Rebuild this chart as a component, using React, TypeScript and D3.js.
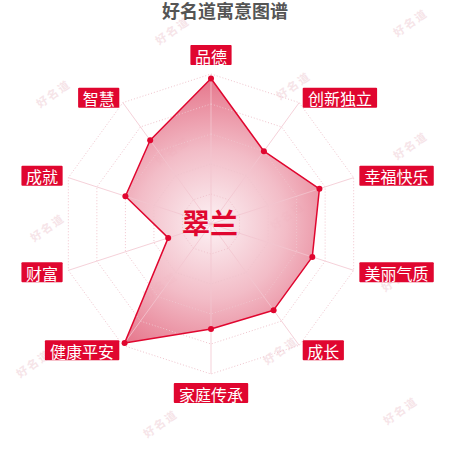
import * as d3 from 'd3'

const indicators = ['品德', '创新独立', '幸福快乐', '美丽气质', '成长', '家庭传承', '健康平安', '财富', '成就', '智慧']
const scores = [97, 60, 76, 71, 71, 70, 98, 30, 60, 69]
const ringLevels = [20, 40, 60, 80, 100]
const watermarks: [number, number][] = [
  [172, 30], [410, 22], [53, 93], [293, 85], [172, 150], [410, 145],
  [47, 227], [287, 215], [160, 285], [398, 277], [33, 363], [280, 350], [160, 423], [400, 410],
]

const FONT = '"Noto Sans CJK SC", "Noto Sans", sans-serif'
const RED = '#e0062f'

export default function App() {
  const width = 450
  const height = 450
  const cx = 211
  const cy = 224
  const R = 150

  const r = d3.scaleLinear().domain([0, 100]).range([0, R])
  const angle = d3
    .scaleLinear()
    .domain([0, indicators.length])
    .range([-Math.PI / 2, (3 * Math.PI) / 2])

  const pt = (i: number, v: number): [number, number] => {
    const a = angle(i)
    return [cx + r(v) * Math.cos(a), cy + r(v) * Math.sin(a)]
  }

  const line = d3.line<[number, number]>().curve(d3.curveLinearClosed)
  const dataPts = scores.map((v, i) => pt(i, v))

  return (
    <svg
      width={width}
      height={height}
      style={{ position: 'absolute', left: 0, top: 0, display: 'block' }}
      fontFamily={FONT}
    >
      <defs>
        <radialGradient id="fillGrad" gradientUnits="userSpaceOnUse" cx={cx} cy={cy} r={R}>
          <stop offset="0" stopColor="#fcf0f3" />
          <stop offset="0.5" stopColor="#f1b5c1" />
          <stop offset="1" stopColor="#e2637b" />
        </radialGradient>
      </defs>
      <rect width={width} height={height} fill="#fff" />

      {watermarks.map(([x, y], i) => (
        <text
          key={`wm-${i}`}
          x={x}
          y={y}
          textAnchor="middle"
          dominantBaseline="central"
          transform={`rotate(-35 ${x} ${y})`}
          fontSize={11}
          fontWeight="bold"
          fill="#f6e4e8"
          letterSpacing={2}
        >
          好名道
        </text>
      ))}

      <text x={225} y={18} textAnchor="middle" fontSize={18} fontWeight="bold" fill="#555">
        好名道寓意图谱
      </text>

      <path d={line(dataPts) ?? ''} fill="url(#fillGrad)" fillOpacity={0.9} />

      {ringLevels.map((lv) => (
        <path
          key={`ring-${lv}`}
          d={line(indicators.map((_, i) => pt(i, lv))) ?? ''}
          fill="none"
          stroke="#f0c4cd"
          strokeWidth={1}
          strokeDasharray="1 2"
        />
      ))}
      {indicators.map((_, i) => {
        const [x, y] = pt(i, 100)
        return <line key={`sp-${i}`} x1={cx} y1={cy} x2={x} y2={y} stroke="#f2c6cf" strokeOpacity={0.8} strokeWidth={1} />
      })}

      <path d={line(dataPts) ?? ''} fill="none" stroke={RED} strokeWidth={1.5} strokeLinejoin="round" />
      {dataPts.map(([x, y], i) => (
        <circle key={`dot-${i}`} cx={x} cy={y} r={3} fill={RED} />
      ))}

      <text x={210} y={222} textAnchor="middle" dominantBaseline="central" fontSize={28} fontWeight="bold" fill={RED}>
        翠兰
      </text>

      {indicators.map((name, i) => {
        const a = angle(i)
        const [ax, ay] = [cx + (R + 6) * Math.cos(a), cy + (R + 6) * Math.sin(a)]
        const fs = 16
        const w = name.length * 16.6 + 8
        const h = 20
        const c = Math.cos(a)
        const s = Math.sin(a)
        let bx = ax - w / 2
        if (c > 0.01) bx = ax
        else if (c < -0.01) bx = ax - w
        let by = ay - h / 2
        if (Math.abs(c) <= 0.01) by = s < 0 ? ay - h - 3 : ay + 3
        return (
          <g key={`lab-${i}`}>
            <rect x={bx} y={by} width={w} height={h} fill={RED} rx={1} />
            <text
              x={bx + w / 2}
              y={by + h / 2 + 0.5}
              textAnchor="middle"
              dominantBaseline="central"
              fontSize={fs}
              fill="#fff"
            >
              {name}
            </text>
          </g>
        )
      })}
    </svg>
  )
}
